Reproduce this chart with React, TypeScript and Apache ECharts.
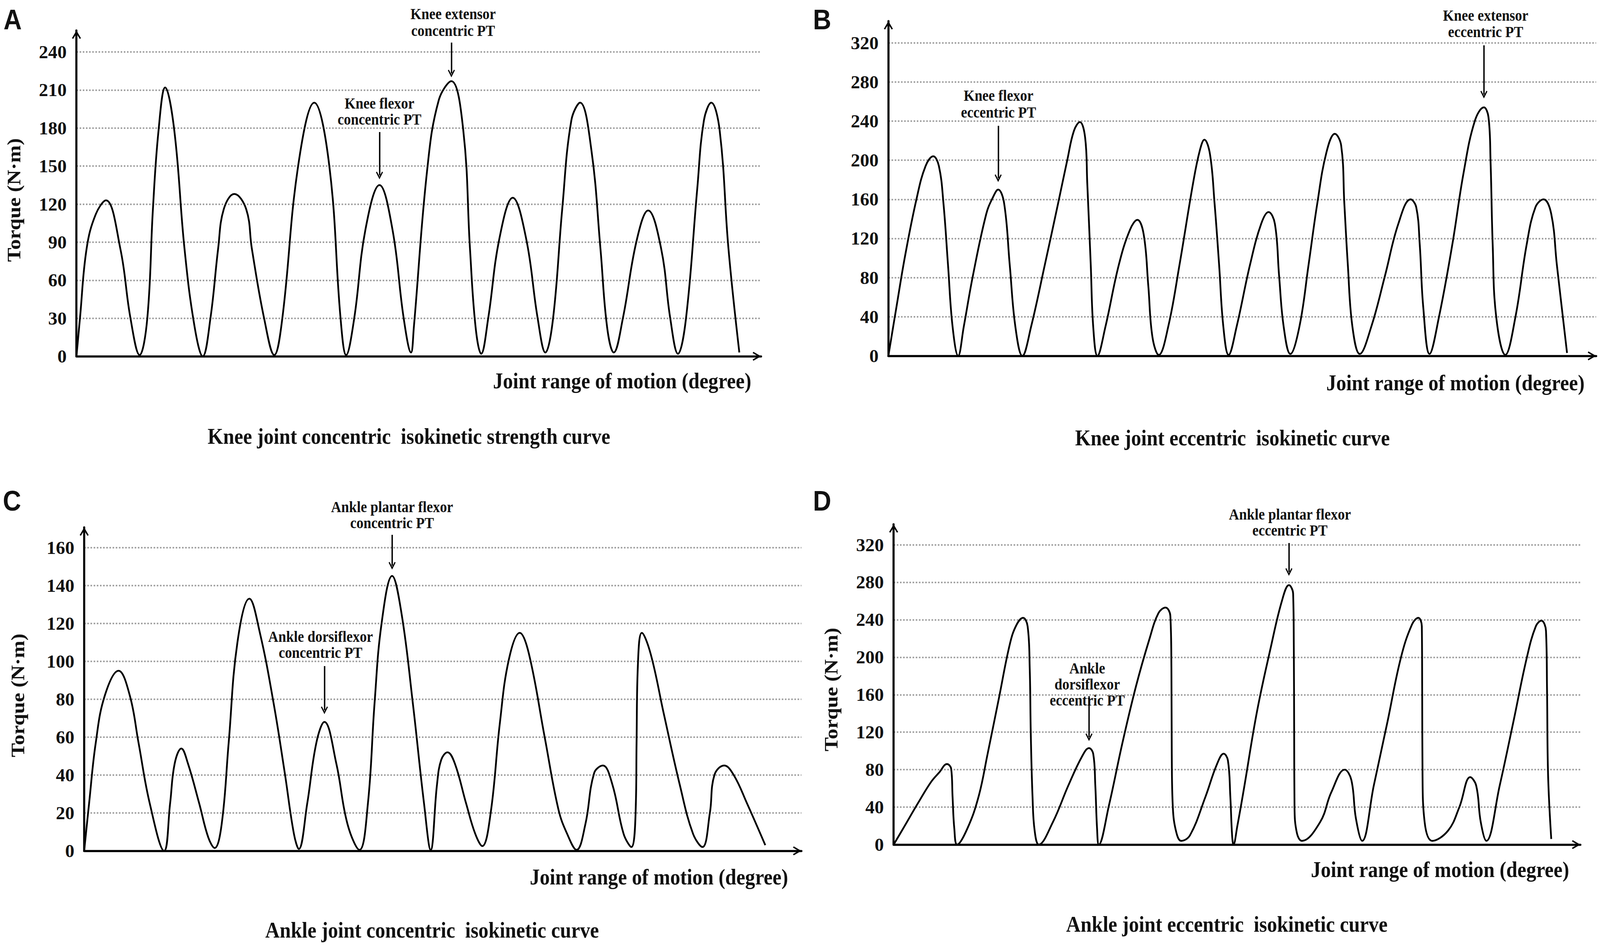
import React, { useEffect, useRef } from "react";
import * as echarts from "echarts";

const SERIF = '"Liberation Serif", "Times New Roman", Times, serif';
const SANS = '"Liberation Sans", Arial, Helvetica, sans-serif';

// ---------- DATA (x = position along the joint range; y = torque, N·m) ----------
// A: knee joint concentric
const kneeConX = [0, 10, 29, 55, 84, 125, 154, 180, 202, 218, 234, 253, 279, 308, 337, 360, 382, 404, 420, 450, 484, 500, 535, 564, 587, 632, 678, 721, 753, 769, 792, 824, 864, 901, 933, 954, 962, 1000, 1033, 1069, 1103, 1122, 1138, 1154, 1174, 1206, 1244, 1282, 1315, 1337, 1359, 1385, 1411, 1436, 1468, 1494, 1513, 1532, 1558, 1597, 1630, 1667, 1693, 1715, 1738, 1770, 1789, 1810, 1834, 1859, 1890];
const kneeConY = [0, 30, 85, 112, 123, 85, 30, 1, 30, 116, 178, 212, 178, 85, 23, 0, 30, 85, 116, 128, 116, 85, 30, 1, 30, 150, 200, 150, 30, 1, 30, 100, 135, 100, 30, 3, 23, 147, 202, 217, 178, 85, 23, 2, 30, 93, 125, 93, 30, 3, 30, 116, 186, 200, 163, 85, 23, 3, 30, 91, 115, 85, 30, 2, 30, 132, 186, 200, 178, 85, 3];
const kneeConTicks = [0, 30, 60, 90, 120, 150, 180, 210, 240];

// B: knee joint eccentric
const kneeEccX = [0, 23, 48, 80, 106, 128, 144, 157, 170, 183, 199, 215, 241, 279, 298, 313, 330, 346, 362, 382, 407, 446, 484, 510, 529, 546, 561, 567, 577, 584, 596, 619, 657, 689, 710, 728, 741, 753, 771, 798, 830, 869, 888, 901, 917, 930, 943, 955, 970, 993, 1031, 1063, 1084, 1102, 1114, 1127, 1146, 1172, 1198, 1223, 1249, 1273, 1291, 1300, 1310, 1323, 1344, 1377, 1416, 1454, 1489, 1505, 1515, 1525, 1543, 1570, 1608, 1640, 1672, 1698, 1711, 1717, 1723, 1733, 1759, 1788, 1820, 1845, 1868, 1890, 1906, 1935];
const kneeEccY = [0, 50, 103, 160, 194, 204, 194, 156, 93, 30, 0, 30, 82, 145, 162, 170, 156, 93, 30, 0, 30, 93, 156, 200, 230, 239, 223, 177, 93, 30, 0, 30, 93, 129, 139, 124, 72, 19, 1, 30, 93, 177, 210, 221, 206, 156, 93, 30, 1, 30, 93, 135, 147, 135, 82, 30, 2, 30, 93, 156, 208, 227, 215, 156, 93, 30, 2, 30, 82, 135, 160, 152, 114, 50, 2, 40, 114, 187, 240, 254, 244, 198, 114, 40, 1, 40, 114, 152, 160, 145, 93, 3];
const kneeEccTicks = [0, 40, 80, 120, 160, 200, 240, 280, 320];

// C: ankle joint concentric
const ankleConX = [0, 14, 33, 59, 98, 130, 155, 187, 228, 245, 258, 277, 296, 328, 354, 372, 392, 412, 437, 471, 501, 540, 572, 598, 612, 636, 662, 685, 719, 751, 785, 809, 828, 848, 878, 905, 937, 969, 988, 1006, 1018, 1036, 1057, 1089, 1115, 1135, 1159, 1185, 1211, 1242, 1268, 1313, 1352, 1377, 1404, 1429, 1454, 1479, 1506, 1538, 1560, 1573, 1575, 1579, 1590, 1615, 1653, 1698, 1736, 1763, 1784, 1797, 1825, 1852, 1890, 1942];
const ankleConY = [0, 25, 57, 82, 95, 82, 57, 25, 0, 25, 46, 54, 46, 25, 7, 1.5, 14, 57, 110, 133, 115, 78, 41, 9, 1, 25, 57, 68, 46, 14, 0.5, 25, 78, 120, 145, 125, 78, 25, 0.5, 35, 48, 52, 46, 25, 9, 2.5, 20, 67, 101, 115, 104, 60, 22, 9, 0.5, 14, 41, 45, 35, 9, 2, 25, 57, 99, 115, 104, 72, 35, 9, 2, 20, 40, 45, 40, 25, 3];
const ankleConTicks = [0, 20, 40, 60, 80, 100, 120, 140, 160];

// D: ankle joint eccentric
const ankleEccX = [0, 30, 69, 107, 130, 152, 164, 168, 173, 181, 210, 242, 268, 300, 332, 351, 369, 382, 388, 391, 396, 402, 414, 454, 498, 537, 557, 569, 575, 580, 585, 614, 652, 691, 729, 755, 775, 789, 792, 793, 796, 806, 820, 845, 889, 921, 941, 953, 960, 965, 969, 980, 998, 1036, 1075, 1107, 1127, 1139, 1141, 1142, 1143, 1150, 1164, 1216, 1248, 1286, 1305, 1318, 1336, 1369, 1408, 1446, 1478, 1496, 1506, 1507, 1508, 1514, 1536, 1581, 1613, 1644, 1661, 1674, 1690, 1728, 1767, 1805, 1831, 1847, 1860, 1863, 1866, 1875];
const ankleEccY = [0, 19, 44, 67, 77, 86, 81, 51, 17, 0, 17, 51, 97, 156, 215, 235, 242, 233, 188, 119, 51, 15, 0, 24, 63, 94, 103, 97, 63, 17, 0, 42, 108, 169, 219, 247, 253, 244, 188, 97, 40, 13, 4, 10, 51, 85, 97, 90, 51, 10, 0, 20, 58, 142, 210, 260, 277, 268, 210, 119, 40, 12, 4, 24, 56, 80, 69, 28, 4, 63, 131, 199, 235, 242, 233, 165, 74, 24, 4, 15, 40, 72, 63, 24, 4, 63, 131, 199, 233, 239, 228, 165, 74, 6];
const ankleEccTicks = [0, 40, 80, 120, 160, 200, 240, 280, 320];

// ---------- LAYOUT (reference pixels, 4562 x 2419; scaled to the real viewport) ----------
const REF_W = 4562;
const REF_H = 2419;
const ARROW = "path://M5,0 L10,8.5 L8.6,9.3 L5,3.3 L1.4,9.3 L0,8.5 Z";

type Note = { lines: string[]; cx: number; ys: number[]; at: number; top: number; tip: number };
type Panel = {
  letter: string; letterX: number; letterY: number;
  axisX: number; tipX: number; zeroY: number; topY: number; refY: number; refV: number;
  xs: number[]; ys: number[]; ticks: number[];
  yTitle: null | { x: number; y: number };
  xName: { x: number; y: number };
  title: { text: string; x: number; y: number };
  notes: Note[];
};

const panels: Panel[] = [
  {
    letter: "A", letterX: 10, letterY: 50,
    axisX: 218, tipX: 2170, zeroY: 912, topY: 78, refY: 133, refV: 240,
    xs: kneeConX, ys: kneeConY, ticks: kneeConTicks,
    yTitle: { x: 40, y: 512 },
    xName: { x: 2142, y: 975 },
    title: { text: "Knee joint concentric  isokinetic strength curve", x: 1166, y: 1117 },
    notes: [
      { lines: ["Knee extensor", "concentric PT"], cx: 1292, ys: [35, 78], at: 1069, top: 109, tip: 198 },
      { lines: ["Knee flexor", "concentric PT"], cx: 1082, ys: [264, 305], at: 864, top: 338, tip: 459 },
    ],
  },
  {
    letter: "B", letterX: 2318, letterY: 50,
    axisX: 2533, tipX: 4551, zeroY: 911, topY: 54, refY: 109.5, refV: 320,
    xs: kneeEccX, ys: kneeEccY, ticks: kneeEccTicks,
    yTitle: null,
    xName: { x: 4518, y: 980 },
    title: { text: "Knee joint eccentric  isokinetic curve", x: 3514, y: 1121 },
    notes: [
      { lines: ["Knee extensor", "eccentric PT"], cx: 4236, ys: [39, 81], at: 1698, top: 116, tip: 252 },
      { lines: ["Knee flexor", "eccentric PT"], cx: 2847, ys: [244, 287], at: 313, top: 322, tip: 466 },
    ],
  },
  {
    letter: "C", letterX: 8, letterY: 1282,
    axisX: 240, tipX: 2285, zeroY: 2178, topY: 1350, refY: 1401.5, refV: 160,
    xs: ankleConX, ys: ankleConY, ticks: ankleConTicks,
    yTitle: { x: 51, y: 1780 },
    xName: { x: 2247, y: 2245 },
    title: { text: "Ankle joint concentric  isokinetic curve", x: 1232, y: 2381 },
    notes: [
      { lines: ["Ankle plantar flexor", "concentric PT"], cx: 1118, ys: [1297, 1338], at: 878, top: 1369, tip: 1458 },
      { lines: ["Ankle dorsiflexor", "concentric PT"], cx: 914, ys: [1629, 1670], at: 685, top: 1705, tip: 1828 },
    ],
  },
  {
    letter: "D", letterX: 2318, letterY: 1282,
    axisX: 2548, tipX: 4506, zeroY: 2162, topY: 1342, refY: 1394.5, refV: 320,
    xs: ankleEccX, ys: ankleEccY, ticks: ankleEccTicks,
    yTitle: { x: 2369, y: 1765 },
    xName: { x: 4474, y: 2226 },
    title: { text: "Ankle joint eccentric  isokinetic curve", x: 3498, y: 2366 },
    notes: [
      { lines: ["Ankle plantar flexor", "eccentric PT"], cx: 3678, ys: [1316, 1357], at: 1127, top: 1390, tip: 1474 },
      { lines: ["Ankle", "dorsiflexor", "eccentric PT"], cx: 3100, ys: [1710, 1751, 1792], at: 557, top: 1782, tip: 1897 },
    ],
  },
];

function buildOption(W: number, H: number) {
  const sx = W / REF_W;
  const sy = H / REF_H;
  const s = Math.min(sx, sy);

  // text drawn in reference proportions in both directions
  const text = (x: number, y: number, t: string, size: number, extra: any = {}) => {
    const rotated = !!extra.rotation;
    const fs = rotated ? size * sx : size * sy;
    const stretch = rotated ? sy / sx : sx / sy;
    return {
      type: "text",
      x: x * sx,
      y: y * sy,
      rotation: extra.rotation || 0,
      scaleX: stretch,
      scaleY: 1,
      silent: true,
      style: {
        text: t,
        fontSize: fs,
        fontFamily: extra.family || SERIF,
        fontWeight: "bold",
        fill: "#111",
        align: extra.align || "center",
        verticalAlign: "middle",
      },
    };
  };

  const grid: any[] = [];
  const xAxis: any[] = [];
  const yAxis: any[] = [];
  const series: any[] = [];
  const graphic: any[] = [];

  panels.forEach((p, i) => {
    const pxPer = (p.zeroY - p.refY) / p.refV; // reference px per N·m
    const yMax = (p.zeroY - p.topY) / pxPer;
    const xMax = p.tipX - p.axisX;
    const toVal = (py: number) => (p.zeroY - py) / pxPer;
    const step = p.ticks[1] - p.ticks[0];
    const axisLine = {
      show: true,
      onZero: false,
      lineStyle: { color: "#000", width: 6 * s },
      symbol: ["none", ARROW],
      symbolSize: [26 * s, 24 * s],
      symbolOffset: [0, -12 * s],
    };

    grid.push({
      left: p.axisX * sx,
      top: p.topY * sy,
      width: xMax * sx,
      height: (p.zeroY - p.topY) * sy,
      containLabel: false,
      outerBoundsMode: "none",
    });
    xAxis.push({
      type: "value", gridIndex: i, min: 0, max: xMax,
      axisLine,
      axisTick: { show: false }, axisLabel: { show: false }, splitLine: { show: false },
    });
    yAxis.push({
      type: "value", gridIndex: i, min: 0, max: yMax, interval: step,
      axisLine,
      axisTick: { show: false },
      axisLabel: {
        margin: 28 * sx, fontSize: 50 * Math.sqrt(sx * sy), fontFamily: SERIF, fontWeight: "bold", color: "#111",
        showMaxLabel: false,
        formatter: (v: number) =>
          p.ticks.indexOf(Math.round(v)) >= 0 && Math.abs(v - Math.round(v)) < 1e-6 ? String(Math.round(v)) : "",
      },
      splitLine: {
        show: true, showMinLine: false, showMaxLine: false,
        lineStyle: { color: "#a0a0a0", width: 4.5 * s, type: "dotted" },
      },
    });
    series.push({
      type: "line", xAxisIndex: i, yAxisIndex: i,
      data: p.xs.map((x, k) => [x, p.ys[k]]),
      smooth: 0.4, symbol: "none", showSymbol: false, silent: true,
      lineStyle: { color: "#000", width: 5 * s },
      markLine: {
        silent: true, symbol: ["none", ARROW], symbolSize: [20 * s, 22 * s],
        lineStyle: { color: "#000", width: 4 * s, type: "solid" },
        label: { show: false }, emphasis: { disabled: true }, animation: false,
        data: p.notes.map((n) => [
          { coord: [n.at, toVal(n.top)] },
          { coord: [n.at, toVal(n.tip) + (11 * s) / sy / pxPer] },
        ]),
      },
    });

    graphic.push(text(p.letterX, p.letterY, p.letter, 72, { family: SANS, align: "left" }));
    if (p.yTitle) graphic.push(text(p.yTitle.x, p.yTitle.y, "Torque (N·m)", 54, { rotation: Math.PI / 2 }));
    graphic.push(text(p.xName.x, p.xName.y, "Joint range of motion (degree)", 57, { align: "right" }));
    graphic.push(text(p.title.x, p.title.y, p.title.text, 57));
    p.notes.forEach((n) => n.lines.forEach((ln, k) => graphic.push(text(n.cx, n.ys[k], ln, 40))));
  });

  return { animation: false, backgroundColor: "#fff", grid, xAxis, yAxis, series, graphic };
}

export default function App() {
  const ref = useRef<HTMLDivElement>(null);
  useEffect(() => {
    const el = ref.current;
    if (!el) return;
    const W = window.innerWidth || REF_W;
    const H = window.innerHeight || REF_H;
    el.style.width = W + "px";
    el.style.height = H + "px";
    const chart = echarts.init(el, undefined, { renderer: "svg", width: W, height: H });
    chart.setOption(buildOption(W, H) as any);
    return () => chart.dispose();
  }, []);
  return <div ref={ref} style={{ position: "fixed", left: 0, top: 0, width: "100vw", height: "100vh", background: "#fff" }} />;
}
